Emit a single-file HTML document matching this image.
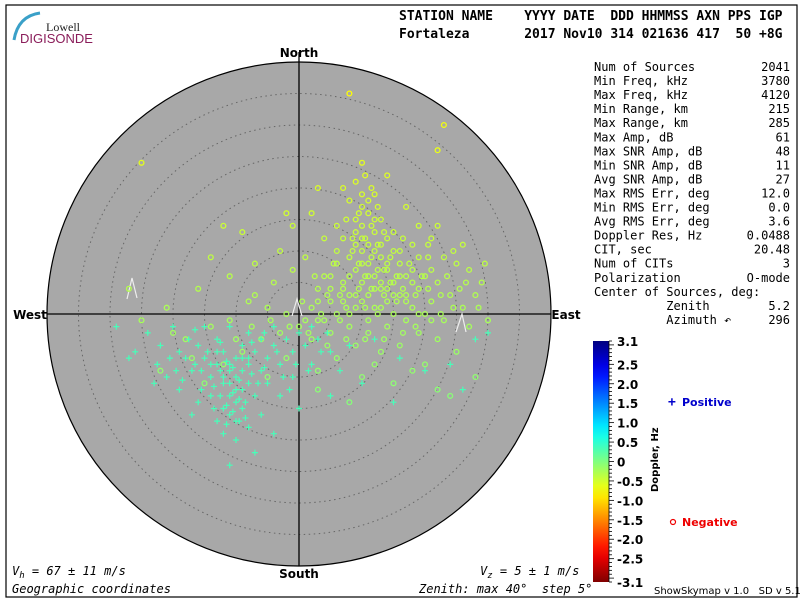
<!DOCTYPE html>
<html><head><meta charset="utf-8"><style>
html,body{margin:0;padding:0;background:#fff}
svg{display:block}
text{font-family:"DejaVu Sans Mono","Liberation Mono",monospace}
</style></head><body>
<svg id="chart" width="800" height="600" viewBox="0 0 800 600" xmlns="http://www.w3.org/2000/svg">
<rect x="0" y="0" width="800" height="600" fill="#fff"/>
<rect x="6" y="5" width="791" height="592" fill="none" stroke="#000" stroke-width="1.2"/>
<g>
<path d="M40 13 Q18 16 14 40" stroke="#3aa0c8" stroke-width="3" fill="none"/>
<text x="80" y="31" font-size="12" fill="#222" text-anchor="end" style="font-family:'Liberation Serif',serif">Lowell</text>
<text x="20" y="43" font-size="13" fill="#8a1d5a" style="font-family:'Liberation Sans',sans-serif">DIGISONDE</text>
</g>
<g font-size="13" font-weight="bold">
<text x="399" y="20" style="white-space:pre">STATION NAME    YYYY DATE  DDD HHMMSS AXN PPS IGP</text>
<text x="399" y="38" style="white-space:pre">Fortaleza       2017 Nov10 314 021636 417  50 +8G</text>
</g>
<g id="plot"></g>
<g id="stats" font-size="12"></g>
<g id="cbar"></g>
<g font-weight="bold" font-size="11">
<text x="668" y="406" fill="#00c" font-size="13">+</text>
<text x="682" y="406" fill="#00c" style="font-family:'DejaVu Sans',sans-serif">Positive</text>
<circle cx="673" cy="522" r="2.5" fill="none" stroke="#e00" stroke-width="1.2"/>
<text x="682" y="526" fill="#e00" style="font-family:'DejaVu Sans',sans-serif">Negative</text>
</g>
<text transform="translate(658,492) rotate(-90)" font-size="10" font-weight="bold" style="font-family:'DejaVu Sans',sans-serif">Doppler, Hz</text>
<g font-size="12" font-style="italic">
<text x="12" y="575">V<tspan font-size="9" dy="3">h</tspan><tspan dy="-3"> = 67 ± 11 m/s</tspan></text>
<text x="12" y="593">Geographic coordinates</text>
<text x="480" y="575">V<tspan font-size="9" dy="3">z</tspan><tspan dy="-3"> = 5 ± 1 m/s</tspan></text>
<text x="419" y="593" style="white-space:pre">Zenith: max 40°  step 5°</text>
<text x="654" y="594" font-style="normal" font-size="10" style="font-family:'DejaVu Sans',sans-serif;white-space:pre">ShowSkymap v 1.0   SD v 5.1</text>
</g>
</svg>
<script>
const NS="http://www.w3.org/2000/svg";
const circles=[[9,21],[12,19],[10,17],[11,16],[8,18],[13,15],[10,14],[12,13],[9,13],[14,12],[11,11],[7,12],[15,10],[10,10],[13,9],[8,9],[16,8],[11,8],[6,8],[14,7],[18,7],[9,7],[12,6],[17,6],[20,6],[5,6],[10,5],[15,5],[22,5],[7,5],[13,4],[19,4],[3,4],[11,3],[16,3],[24,3],[8,3],[14,2],[21,2],[5,2],[12,1],[18,1],[26,1],[9,1],[2,1],[15,0],[20,0],[6,0],[11,-1],[23,-1],[3,-1],[17,-1],[8,-2],[14,-2],[27,-2],[0,-2],[19,-3],[5,-3],[11,-3],[-3,-3],[22,-4],[9,-5],[16,-5],[2,-4],[-6,-4],[13,-6],[25,-6],[-9,-6],[6,-7],[20,-8],[-12,-8],[10,-10],[-15,-11],[3,-9],[15,-11],[-5,-10],[24,-13],[8,-14],[-18,-4],[-21,1],[-16,4],[-11,6],[-7,8],[-3,10],[-1,14],[2,16],[-9,13],[-14,9],[4,12],[6,14],[7,20],[10,24],[14,22],[17,17],[19,14],[21,12],[23,9],[25,8],[27,7],[29,5],[28,3],[30,-1],[26,11],[22,14],[18,11],[15,13],[17,3],[13,1],[10,2],[7,4],[4,6],[6,10],[9,11],[12,10],[14,8],[16,10],[19,9],[21,7],[11,6],[13,5],[15,3],[17,2],[19,0],[21,-1],[8,0],[4,-1],[1,-1],[-2,0],[-5,1],[-8,2],[-11,-1],[-14,-2],[-17,-7],[-22,-9],[-20,-3],[-25,-1],[-27,4],[-7,3],[-4,5],[-1,7],[1,9],[-10,-4],[12,-8],[18,-9],[28,-10],[22,-12],[3,-12],[-2,-7],[-12,14],[-25,24],[8,35],[23,30],[22,26],[-2,16],[3,20],[10,19],[11,18],[9,15],[12,15],[13,11],[10,12],[8,6],[12,4],[14,4],[16,6],[18,5],[10,8],[7,2],[9,3],[5,4],[3,2],[11.5,20],[10.5,22],[12.5,17],[9.5,16],[11.5,14],[10.5,12],[13.5,13],[12.5,11],[8.5,10],[14.5,9],[9.5,8],[11.5,9],[13.5,7],[15.5,6],[10.5,6],[12.5,7],[14.5,5],[16.5,4],[11.5,4],[9.5,4],[13.5,3],[15.5,2],[10.5,1],[12.5,0],[7.5,1],[6.5,3],[4.5,3],[18.5,3],[20.5,4],[22.5,3],[19.5,6],[17.5,8],[20.5,9],[23.5,6],[25.5,4],[24.5,1],[22.5,0],[18.5,-2],[16.5,-3],[13.5,-4],[10.5,-4],[7.5,-4],[4.5,-5],[1.5,-3],[-1.5,-2],[-4.5,-1],[-7.5,-2],[6.5,-1],[3.5,0],[0.5,2],[2.5,6],[5.5,8],[8.5,12],[7.5,15],[16.5,12],[20.5,11],[26.5,5],[28.5,1],[29.5,8],[24.5,10]];
const pluses=[[-10,-7],[-12,-6],[-8,-8],[-11,-9],[-9,-5],[-13,-8],[-7,-6],[-10,-10],[-12,-11],[-9,-12],[-11,-13],[-10,-14],[-8,-11],[-14,-10],[-15,-7],[-16,-5],[-6,-9],[-5,-7],[-4,-5],[-3,-8],[-2,-4],[-13,-4],[-17,-9],[-18,-7],[-19,-6],[-14,-13],[-12,-15],[-11,-16],[-9,-15],[-7,-13],[-6,-4],[-1,-6],[0,-3],[1,-5],[2,-2],[3,-4],[-4,-2],[-8,-3],[-11,-2],[-15,-2],[-20,-2],[-22,-5],[-24,-3],[-26,-6],[-21,-10],[-19,-12],[-16,-14],[-13,-17],[-12,-19],[-10,-20],[-8,-18],[-6,-16],[-5,-11],[-3,-13],[-1,-10],[2,-8],[5,-6],[8,-5],[12,-4],[16,-7],[20,-9],[24,-8],[28,-4],[30,-3],[26,-12],[15,-14],[10,-11],[5,-13],[0,-15],[-7,-22],[-11,-24],[-4,-19],[-17,-16],[-23,-11],[-27,-7],[-29,-2],[-10,-12],[-11,-8],[-9,-9],[-12,-10],[-8,-7],[-13,-6],[-11,-11],[-10,-17],[-9,-7],[-14,-8],[-10.5,-8.5],[-11.5,-7.5],[-9.5,-10.5],[-12.5,-9],[-10.5,-12.5],[-11.5,-14.5],[-9.5,-13.5],[-10.5,-15.5],[-8.5,-14],[-12.5,-13],[-13.5,-11.5],[-15.5,-9],[-16.5,-8],[-14.5,-6],[-12.5,-4.5],[-7.5,-9.5],[-6.5,-11],[-5.5,-8.5],[-3.5,-6],[-2.5,-10],[-0.5,-8],[1.5,-9],[3.5,-6],[-17.5,-4],[-19.5,-9],[-20.5,-7],[-18.5,-10.5],[-15.5,-12],[-13.5,-15],[-11.5,-17.5],[-9.5,-17],[-8.5,-16.5],[-7.5,-4.5],[-5.5,-3],[-16.5,-2.5],[-22.5,-8],[4.5,-3],[6.5,-9],[-1.5,-12]];
const circleDoppler=-0.25;
const plusDoppler=0.35;
const cbarTicks=["3.1","2.5","2.0","1.5","1.0","0.5","0","-0.5","-1.0","-1.5","-2.0","-2.5","-3.1"];
const cbarVals=[3.1,2.5,2.0,1.5,1.0,0.5,0,-0.5,-1.0,-1.5,-2.0,-2.5,-3.1];
const statLabels=["Num of Sources","Min Freq, kHz","Max Freq, kHz","Min Range, km","Max Range, km","Max Amp, dB","Max SNR Amp, dB","Min SNR Amp, dB","Avg SNR Amp, dB","Max RMS Err, deg","Min RMS Err, deg","Avg RMS Err, deg","Doppler Res, Hz","CIT, sec","Num of CITs","Polarization","Center of Sources, deg:","          Zenith","          Azimuth ↶"];
const statValues=["2041","3780","4120","215","285","61","48","11","27","12.0","0.0","3.6","0.0488","20.48","3","O-mode","","5.2","296"];
const CX=299,CY=314,R=252,MAXZ=40;
const sx=d=>CX+d*R/MAXZ, sy=d=>CY-d*R/MAXZ;
function jet(v){let t=(v+3.1)/6.2;t=Math.max(0,Math.min(1,t));
 const f=x=>Math.max(0,Math.min(1,1.5-Math.abs(4*x)));
 const r=f(t-0.25),g=f(t-0.5),b=f(t-0.75);
 return `rgb(${Math.round(r*255)},${Math.round(g*255)},${Math.round(b*255)})`;}
function mk(tag,attrs,parent){const e=document.createElementNS(NS,tag);for(const k in attrs)e.setAttribute(k,attrs[k]);parent.appendChild(e);return e;}
const plot=document.getElementById('plot');
const disk=mk('circle',{cx:CX,cy:CY,r:R,fill:'#a8a8a8',stroke:'#000','stroke-width':1.2},plot);


for(let z=5;z<MAXZ;z+=5){const c=mk('circle',{cx:CX,cy:CY,r:z*R/MAXZ,fill:'none',stroke:'#666','stroke-width':1,'stroke-dasharray':'1.5,3.5'},plot);

}
const ax1=mk('line',{x1:CX,y1:CY-R-10,x2:CX,y2:CY+R,stroke:'#000','stroke-width':1.3},plot);


const ax2=mk('line',{x1:CX-R,y1:CY,x2:CX+R,y2:CY,stroke:'#000','stroke-width':1.3},plot);


const dirs=[["North",CX,57,"middle","north-label"],["South",CX,578,"middle","south-label"],["West",30,319,"middle","west-label"],["East",566,319,"middle","east-label"]];
dirs.forEach(d=>{const t=mk('text',{x:d[1],y:d[2],'text-anchor':d[3],'font-size':12,'font-weight':'bold',style:"font-family:'DejaVu Sans',sans-serif"},plot);t.textContent=d[0];

});
[[127,299,132,278,137,298],[292,316,297,299,302,316],[456,332,462,314,466,332]].forEach(p=>{const l=mk('polyline',{points:`${p[0]},${p[1]} ${p[2]},${p[3]} ${p[4]},${p[5]}`,fill:'none',stroke:'#eee','stroke-width':1.2},plot);

});
circles.forEach(p=>{const c=mk('circle',{cx:sx(p[0]),cy:sy(p[1]),r:2.4,fill:'none',stroke:jet(circleDoppler-p[1]*0.015),'stroke-width':1.3},plot);

});
pluses.forEach(p=>{const x=sx(p[0]),y=sy(p[1]);const c=mk('path',{d:`M${x-3},${y}H${x+3}M${x},${y-3}V${y+3}`,stroke:jet(plusDoppler),'stroke-width':1.2},plot);

});
const st=document.getElementById('stats');
statLabels.forEach((s,i)=>{const y=71+i*14.05;
const a=mk('text',{x:594,y:y,style:'white-space:pre'},st);a.textContent=s;


const b=mk('text',{x:790,y:y,'text-anchor':'end'},st);b.textContent=statValues[i];

});
const cb=document.getElementById('cbar');
const T=341,B=582,VMAX=3.1,VMIN=-3.1;const cy=v=>T+(VMAX-v)/(VMAX-VMIN)*(B-T);
const defs=mk('defs',{},cb);const lg=mk('linearGradient',{id:'jetg',x1:0,y1:0,x2:0,y2:1},defs);
for(let i=0;i<=20;i++){mk('stop',{offset:i/20,'stop-color':jet(VMAX-i/20*(VMAX-VMIN))},lg);}
const bar=mk('rect',{x:593,y:T,width:16,height:B-T,fill:'url(#jetg)'},cb);


for(let k=-31;k<=31;k++){const y=cy(k/10);const len=(k%5===0)?5:3;mk('line',{x1:609,y1:y,x2:609+len,y2:y,stroke:'#000','stroke-width':0.8},cb);}
mk('line',{x1:609,y1:T,x2:609,y2:B,stroke:'#000','stroke-width':0.8},cb);
cbarVals.forEach((v,i)=>{const t=mk('text',{x:617,y:cy(v)+5,'font-size':12,'font-weight':'bold',style:"font-family:'DejaVu Sans',sans-serif"},cb);t.textContent=cbarTicks[i];

});
</script>
</body></html>
